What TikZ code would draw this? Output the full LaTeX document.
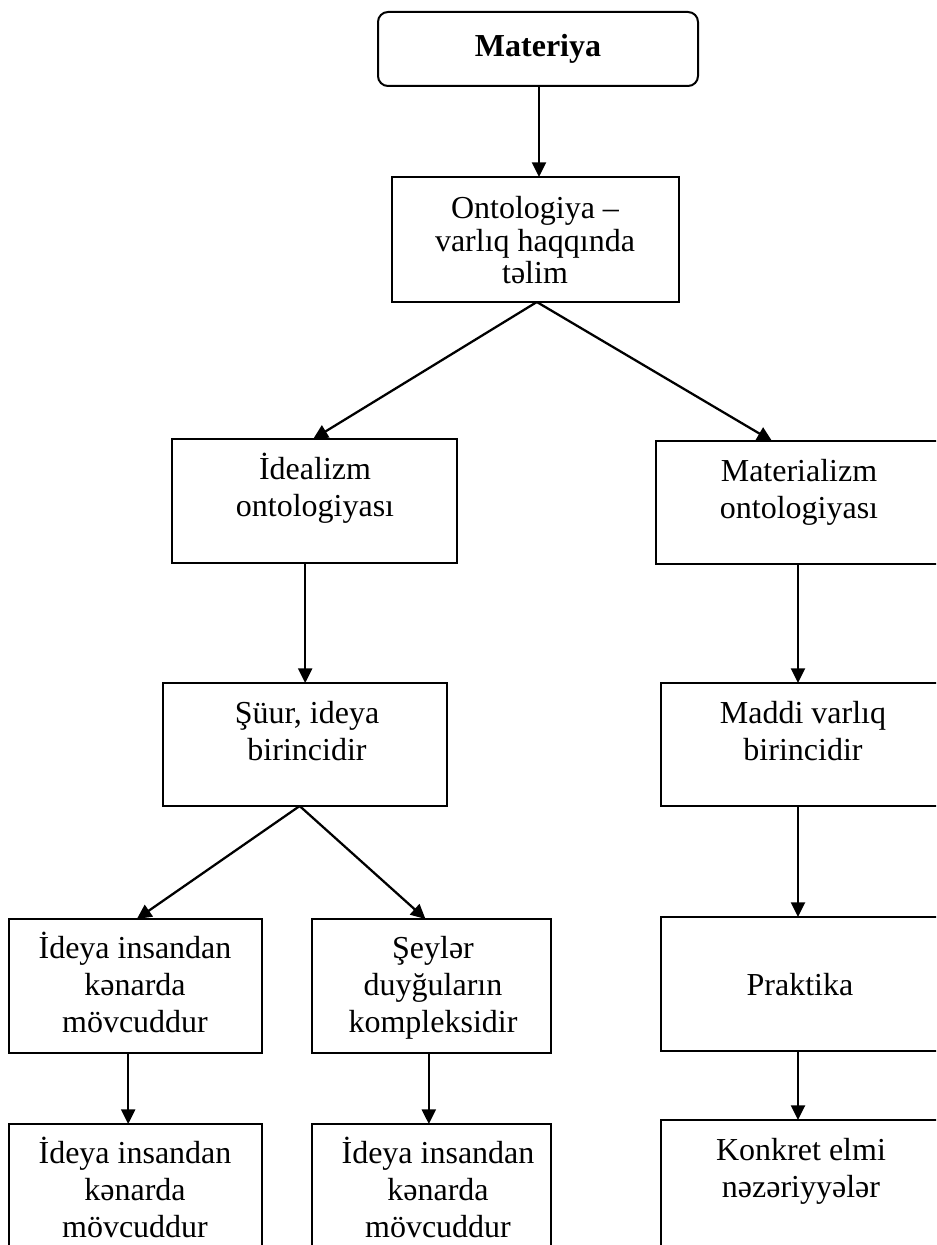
\documentclass[tikz,border=0pt]{standalone}
\usepackage{fontspec}
\setmainfont{Liberation Serif}
\usetikzlibrary{arrows.meta}
\tikzset{
  bx/.style={draw, line width=1.5pt, inner sep=0pt, outer sep=0pt, minimum width=#1},
  txt/.style={anchor=north, inner sep=0pt, align=center, font=\fontsize{24}{27.75}\selectfont},
  txtb/.style={anchor=north, inner sep=0pt, align=center, font=\fontsize{24}{23.5}\selectfont},
  arr/.style={line width=1.7pt, -{Triangle[length=11pt, width=10.5pt]}}
}
\begin{document}
\begin{tikzpicture}[x=0.75pt, y=-0.75pt]
\useasboundingbox (0,0) rectangle (936,1245);
\clip (0,0) rectangle (936,1245);
% boxes
\node[bx=240pt, minimum height=55.5pt, rounded corners=7.5pt, font=\fontsize{24}{28}\selectfont\bfseries] (mat0) at (538,49) {Materiya};
\node[bx=215.25pt, minimum height=93.75pt] (onto) at (535.5,239.5) {};
\node[bx=213.75pt, minimum height=93pt] (ideal) at (314.5,501) {};
\node[bx=213pt, minimum height=92.25pt] (mater) at (798,502.5) {};
\node[bx=213pt, minimum height=92.25pt] (suur) at (305,744.5) {};
\node[bx=209.25pt, minimum height=92.25pt] (maddi) at (800.5,744.5) {};
\node[bx=189.75pt, minimum height=100.5pt] (b1) at (135.5,986) {};
\node[bx=179.25pt, minimum height=100.5pt] (b2) at (431.5,986) {};
\node[bx=209.25pt, minimum height=100.5pt] (prak) at (800.5,984) {};
\node[bx=189.75pt, minimum height=102pt] (c1) at (135.5,1192) {};
\node[bx=179.25pt, minimum height=102pt] (c2) at (431.5,1192) {};
\node[bx=209.25pt, minimum height=105pt] (konk) at (800.5,1190) {};
% texts
\node[txtb] (ontot) at (535,196.3) {\strut Ontologiya --\\varlıq haqqında\\təlim\strut};
\node[txt] (idealt) at (315,453.1) {\strut İdealizm\\ontologiyası\strut};
\node[txt] (matert) at (799,455.1) {\strut Materializm\\ontologiyası\strut};
\node[txt] (suurt) at (307,697.1) {\strut Şüur, ideya\\birincidir\strut};
\node[txt] (madt) at (803,697.1) {\strut Maddi varlıq\\birincidir\strut};
\node[txt] (b1t) at (135,932.1) {\strut İdeya insandan\\kənarda\\mövcuddur\strut};
\node[txt] (b2t) at (433,932.1) {\strut Şeylər\\duyğuların\\kompleksidir\strut};
\node[txt] (prakt) at (800,969.1) {\strut Praktika\strut};
\node[txt] (c1t) at (135,1137.1) {\strut İdeya insandan\\kənarda\\mövcuddur\strut};
\node[txt] (c2t) at (438,1137.1) {\strut İdeya insandan\\kənarda\\mövcuddur\strut};
\node[txt] (konkt) at (801,1134.1) {\strut Konkret elmi\\nəzəriyyələr\strut};
% arrows
\draw[arr] ([xshift=0.75pt]mat0.south) -- ([xshift=0.75pt]mat0.south |- onto.north);
\draw[arr] ([xshift=1pt]onto.south) -- ([xshift=-1pt]ideal.north);
\draw[arr] ([xshift=1pt]onto.south) -- ([xshift=-19.5pt]mater.north);
\draw[arr] ([xshift=-7pt]ideal.south) -- ([xshift=-7pt]ideal.south |- suur.north);
\draw[arr] (mater.south) -- (mater.south |- maddi.north);
\draw[arr] ([xshift=-4pt]suur.south) -- ([xshift=1pt]b1.north);
\draw[arr] ([xshift=-4pt]suur.south) -- ([xshift=-4.5pt]b2.north);
\draw[arr] (mater.south |- maddi.south) -- (mater.south |- prak.north);
\draw[arr] ([xshift=-5.5pt]b1.south) -- ([xshift=-5.5pt]b1.south |- c1.north);
\draw[arr] ([xshift=-2pt]b2.south) -- ([xshift=-2pt]b2.south |- c2.north);
\draw[arr] (mater.south |- prak.south) -- (mater.south |- konk.north);
\end{tikzpicture}
\end{document}
